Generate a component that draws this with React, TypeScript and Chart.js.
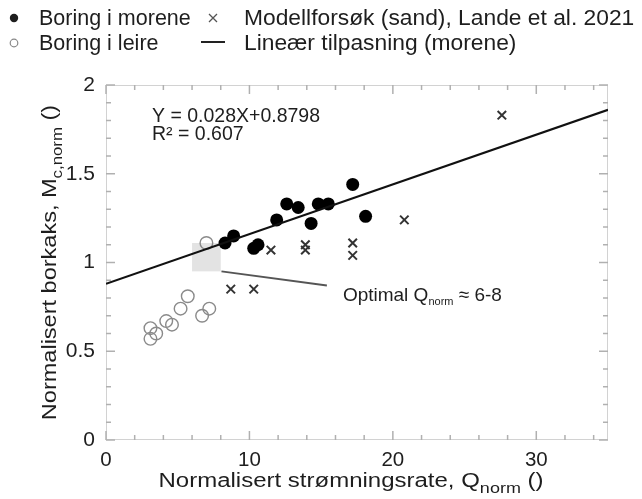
import React, { useEffect, useRef } from "react";
import { Chart, registerables } from "chart.js";

Chart.register(...registerables);

// ---- Data ----
const MORENE_X = [8.3, 8.9, 10.3, 10.6, 11.9, 12.6, 13.4, 14.3, 14.8, 15.5, 17.2, 18.1];
const MORENE_Y = [1.11, 1.15, 1.08, 1.10, 1.24, 1.33, 1.31, 1.22, 1.33, 1.33, 1.44, 1.26];

const LEIRE_X = [7.0, 3.1, 3.1, 3.5, 4.2, 4.6, 5.2, 5.7, 6.7, 7.2];
const LEIRE_Y = [1.11, 0.63, 0.57, 0.60, 0.67, 0.65, 0.74, 0.81, 0.70, 0.74];

const SAND_X = [11.5, 13.9, 13.9, 17.2, 17.2, 20.8, 27.6, 8.7, 10.3];
const SAND_Y = [1.07, 1.10, 1.07, 1.11, 1.04, 1.24, 1.83, 0.85, 0.85];

const FIT_X = [0, 35];
const FIT_Y = [0.88, 1.86];

const OPT_BOX_X = [6, 8];
const OPT_BOX_Y = [0.95, 1.11];
const OPT_LINE_X = [8.05, 15.4];
const OPT_LINE_Y = [0.95, 0.87];

const X_TICKS = [0, 10, 20, 30];
const Y_TICKS = [0, 0.5, 1, 1.5, 2];
const X_MINOR = [2, 4, 6, 8, 12, 14, 16, 18, 22, 24, 26, 28, 32, 34];
const Y_MINOR = [0.1, 0.2, 0.3, 0.4, 0.6, 0.7, 0.8, 0.9, 1.1, 1.2, 1.3, 1.4, 1.6, 1.7, 1.8, 1.9];

const EQ_TEXT = "Y = 0.028X+0.8798";
const R2_TEXT = "R² = 0.607";

const FONT = "'Liberation Sans', Arial, sans-serif";

type Part = [string, boolean];

function richWidth(ctx: CanvasRenderingContext2D, parts: Part[], size: number, subSize: number) {
  let w = 0;
  for (const [t, sub] of parts) {
    ctx.font = `${sub ? subSize : size}px ${FONT}`;
    w += ctx.measureText(t).width;
  }
  return w;
}

function drawRich(
  ctx: CanvasRenderingContext2D,
  parts: Part[],
  x: number,
  y: number,
  size: number,
  subSize: number,
  subDrop: number,
  sx = 1
) {
  ctx.save();
  ctx.translate(x, y);
  ctx.scale(sx, 1);
  let cx = 0;
  ctx.textBaseline = "alphabetic";
  ctx.textAlign = "left";
  for (const [t, sub] of parts) {
    ctx.font = `${sub ? subSize : size}px ${FONT}`;
    ctx.fillText(t, cx, sub ? subDrop : 0);
    cx += ctx.measureText(t).width;
  }
  ctx.restore();
}

const overlayPlugin = {
  id: "overlay",
  beforeDatasetsDraw(chart: any) {
    const ctx: CanvasRenderingContext2D = chart.ctx;
    const xs = chart.scales.x;
    const ys = chart.scales.y;
    const ca = chart.chartArea;
    ctx.save();
    // optimal box
    const bx0 = xs.getPixelForValue(OPT_BOX_X[0]);
    const bx1 = xs.getPixelForValue(OPT_BOX_X[1]);
    const by0 = ys.getPixelForValue(OPT_BOX_Y[1]);
    const by1 = ys.getPixelForValue(OPT_BOX_Y[0]);
    ctx.fillStyle = "#e3e3e3";
    ctx.fillRect(bx0, by0, bx1 - bx0, by1 - by0);

    // frame
    ctx.strokeStyle = "#d2d2d2";
    ctx.lineWidth = 1;
    ctx.strokeRect(ca.left + 0.5, ca.top + 0.5, ca.right - ca.left - 1, ca.bottom - ca.top - 1);

    // inward ticks
    ctx.strokeStyle = "#b0b0b0";
    ctx.lineWidth = 1.5;
    const tick = (x1: number, y1: number, x2: number, y2: number) => {
      ctx.beginPath();
      ctx.moveTo(x1, y1);
      ctx.lineTo(x2, y2);
      ctx.stroke();
    };
    for (const v of X_TICKS) {
      const p = xs.getPixelForValue(v);
      tick(p, ca.bottom, p, ca.bottom - 9);
      tick(p, ca.top, p, ca.top + 9);
    }
    for (const v of X_MINOR) {
      const p = xs.getPixelForValue(v);
      tick(p, ca.bottom, p, ca.bottom - 5);
      tick(p, ca.top, p, ca.top + 5);
    }
    for (const v of Y_TICKS) {
      const p = ys.getPixelForValue(v);
      tick(ca.left, p, ca.left + 9, p);
      tick(ca.right, p, ca.right - 9, p);
    }
    for (const v of Y_MINOR) {
      const p = ys.getPixelForValue(v);
      tick(ca.left, p, ca.left + 5, p);
      tick(ca.right, p, ca.right - 5, p);
    }
    ctx.restore();
  },
  afterDraw(chart: any) {
    const ctx: CanvasRenderingContext2D = chart.ctx;
    const xs = chart.scales.x;
    const ys = chart.scales.y;
    const ca = chart.chartArea;
    ctx.save();
    ctx.fillStyle = "#1e1e1e";

    // Legend
    ctx.textBaseline = "middle";
    ctx.textAlign = "left";
    // row 1
    ctx.beginPath();
    ctx.arc(14, 18, 4.2, 0, Math.PI * 2);
    ctx.fill();
    ctx.font = `21.5px ${FONT}`;
    ctx.fillText("Boring i morene", 39, 19);
    ctx.strokeStyle = "#555";
    ctx.lineWidth = 1.3;
    ctx.beginPath();
    ctx.moveTo(209, 14);
    ctx.lineTo(217, 22);
    ctx.moveTo(217, 14);
    ctx.lineTo(209, 22);
    ctx.stroke();
    ctx.font = `22.8px ${FONT}`;
    ctx.fillText("Modellforsøk (sand), Lande et al. 2021", 244, 19);
    // row 2
    ctx.strokeStyle = "#888";
    ctx.lineWidth = 1.2;
    ctx.beginPath();
    ctx.arc(14, 43, 3.8, 0, Math.PI * 2);
    ctx.stroke();
    ctx.font = `21.5px ${FONT}`;
    ctx.fillText("Boring i leire", 39, 44);
    ctx.strokeStyle = "#222";
    ctx.lineWidth = 2;
    ctx.beginPath();
    ctx.moveTo(201, 42);
    ctx.lineTo(225, 42);
    ctx.stroke();
    ctx.font = `22.8px ${FONT}`;
    ctx.fillText("Lineær tilpasning (morene)", 244, 44);

    // Equation text
    ctx.font = `19.5px ${FONT}`;
    ctx.textBaseline = "alphabetic";
    ctx.fillText(EQ_TEXT, 152, 122);
    ctx.fillText(R2_TEXT, 152, 140);

    // Annotation text
    const ax = xs.getPixelForValue(OPT_LINE_X[1]) + 16;
    const ay = ys.getPixelForValue(OPT_LINE_Y[1]) + 15;
    drawRich(
      ctx,
      [["Optimal Q", false], ["norm", true], [" ≈ 6-8", false]],
      ax,
      ay,
      19,
      11,
      4
    );

    // X-axis title
    const xParts: Part[] = [["Normalisert strømningsrate, Q", false], ["norm", true], [" ()", false]];
    const xsx = 1.2;
    const xw = richWidth(ctx, xParts, 20, 15) * xsx;
    drawRich(ctx, xParts, (ca.left + ca.right) / 2 - 6 - xw / 2, 487, 20, 15, 6, xsx);

    // Y-axis title
    const yParts: Part[] = [["Normalisert borkaks, M", false], ["c,norm", true], [" ()", false]];
    const ysx = 1.12;
    const yw = richWidth(ctx, yParts, 21, 15) * ysx;
    ctx.translate(56, (ca.top + ca.bottom) / 2);
    ctx.rotate(-Math.PI / 2);
    drawRich(ctx, yParts, -yw / 2, 0, 21, 15, 6, ysx);
    ctx.restore();
  },
};

const toPts = (xs: number[], ys: number[]) => xs.map((x, i) => ({ x, y: ys[i] }));

export default function App() {
  const ref = useRef<HTMLCanvasElement | null>(null);
  useEffect(() => {
    if (!ref.current) return;
    const chart = new Chart(ref.current, {
      type: "scatter",
      data: {
        datasets: [
          {
            type: "line",
            label: "Lineær tilpasning (morene)",
            data: toPts(FIT_X, FIT_Y),
            borderColor: "#111",
            borderWidth: 2.2,
            pointRadius: 0,
            fill: false,
          } as any,
          {
            type: "line",
            label: "optimal",
            data: toPts(OPT_LINE_X, OPT_LINE_Y),
            borderColor: "#555",
            borderWidth: 2,
            pointRadius: 0,
            fill: false,
          } as any,
          {
            label: "Boring i leire",
            data: toPts(LEIRE_X, LEIRE_Y),
            pointStyle: "circle",
            pointRadius: 6.3,
            backgroundColor: "rgba(255,255,255,0)",
            borderColor: "#8a8a8a",
            borderWidth: 1.4,
          },
          {
            label: "Modellforsøk (sand), Lande et al. 2021",
            data: toPts(SAND_X, SAND_Y),
            pointStyle: "crossRot",
            pointRadius: 6,
            borderColor: "#333",
            borderWidth: 2,
          },
          {
            label: "Boring i morene",
            data: toPts(MORENE_X, MORENE_Y),
            pointStyle: "circle",
            pointRadius: 6.5,
            backgroundColor: "#000",
            borderColor: "#000",
            borderWidth: 0,
          },
        ],
      },
      options: {
        animation: false,
        responsive: false,
        events: [],
        layout: { padding: { left: 0, top: 85, right: 34, bottom: 24 } },
        plugins: { legend: { display: false }, tooltip: { enabled: false } },
        scales: {
          x: {
            type: "linear",
            min: 0,
            max: 35,
            grid: { display: false },
            border: { display: false },
            ticks: {
              font: { family: FONT, size: 20.5 },
              color: "#1e1e1e",
              padding: 0,
              maxRotation: 0,
            },
            afterBuildTicks: (s: any) => {
              s.ticks = X_TICKS.map((v) => ({ value: v }));
            },
            afterFit: (s: any) => {
              s.height = 35;
            },
          },
          y: {
            type: "linear",
            min: 0,
            max: 2,
            grid: { display: false },
            border: { display: false },
            ticks: {
              font: { family: FONT, size: 21 },
              color: "#1e1e1e",
              padding: 3,
              callback: (v: any) => String(v),
            },
            afterBuildTicks: (s: any) => {
              s.ticks = Y_TICKS.map((v) => ({ value: v }));
            },
            afterFit: (s: any) => {
              s.width = 106;
            },
          },
        },
      },
      plugins: [overlayPlugin],
    });
    return () => chart.destroy();
  }, []);
  return (
    <div style={{ position: "fixed", left: 0, top: 0, width: 642, height: 499, background: "#fff" }}>
      <canvas ref={ref} width={642} height={499} style={{ display: "block" }} />
    </div>
  );
}
